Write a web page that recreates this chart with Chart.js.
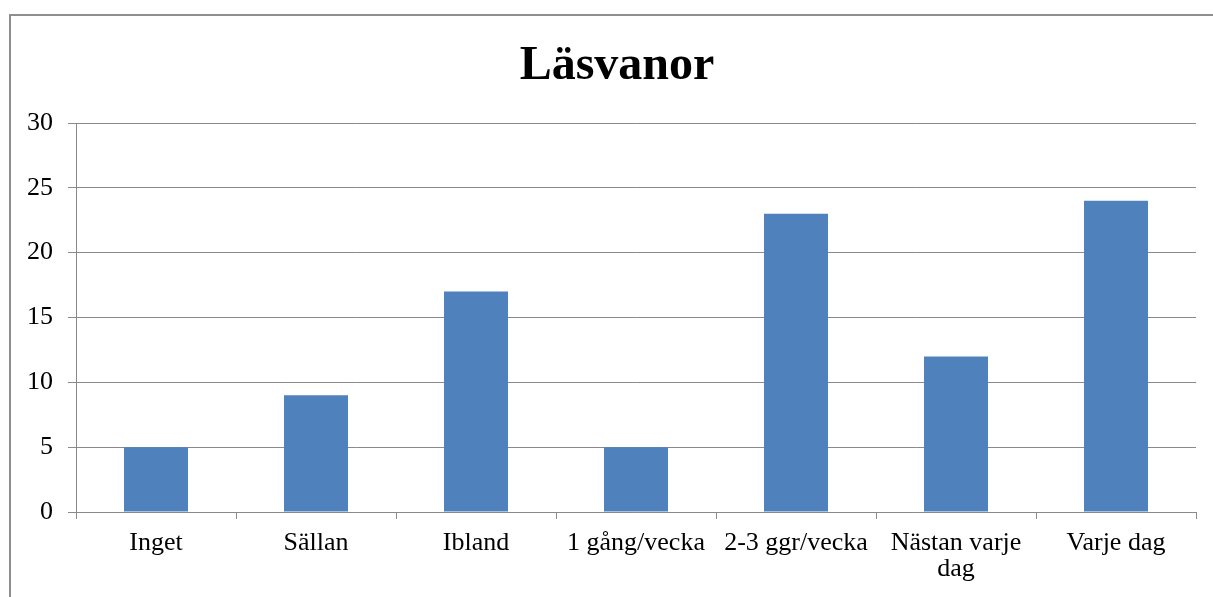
<!DOCTYPE html>
<html>
<head>
<meta charset="utf-8">
<script src="https://cdn.jsdelivr.net/npm/chart.js@4"></script>
<style>
  html, body { margin: 0; padding: 0; background: #fff; overflow: hidden; }
  #frame {
    position: absolute; left: 9px; top: 14px; width: 1260px; height: 650px;
    border-left: 2px solid #8e8e8e; border-top: 2px solid #8e8e8e;
  }
  #chart { position: absolute; left: 0; top: 0; }
</style>
</head>
<body>
<div id="frame"></div>
<canvas id="chart" width="1213" height="597"></canvas>
<script>
// --- Данные графика ---
const chartTitle = 'Läsvanor';
const categories = ['Inget', 'Sällan', 'Ibland', '1 gång/vecka', '2-3 ggr/vecka', ['Nästan varje', 'dag'], 'Varje dag'];
const readingCounts = [5, 9, 17, 5, 23, 12, 24];
const yMin = 0;
const yMax = 30;
const yStep = 5;

const serif = '"Liberation Serif", "Times New Roman", Times, serif';
const gridGray = '#8a8a8a';

// Заголовок центрируется по рамке диаграммы (рамка шире видимой области)
const frameTitle = {
    id: 'frameTitle',
    afterDraw(chart) {
        const c = chart.ctx;
        c.save();
        c.font = 'bold 48px ' + serif;
        c.fillStyle = '#000';
        c.textAlign = 'center';
        c.textBaseline = 'alphabetic';
        c.fillText(chartTitle, 617, 79);
        c.restore();
    }
};

const ctx = document.getElementById('chart').getContext('2d');
new Chart(ctx, {
    type: 'bar',
    data: {
        labels: categories,
        datasets: [{
            label: chartTitle,
            data: readingCounts,
            backgroundColor: '#4F81BD',
            borderWidth: 0,
            categoryPercentage: 1,
            barPercentage: 0.4
        }]
    },
    options: {
        responsive: false,
        animation: false,
        layout: { padding: { left: 0, right: 17, top: 123, bottom: 4 } },
        plugins: {
            legend: { display: false },
            tooltip: { enabled: false },
            title: { display: false }
        },
        scales: {
            x: {
                offset: true,
                grid: { offset: true, drawOnChartArea: false, drawTicks: true, tickLength: 7, color: gridGray, lineWidth: 1 },
                border: { display: true, color: gridGray, width: 1 },
                ticks: {
                    color: '#000', autoSkip: false, maxRotation: 0, minRotation: 0, padding: 11,
                    font: { family: serif, size: 26, lineHeight: 1 }
                }
            },
            y: {
                min: yMin,
                max: yMax,
                afterFit: (scale) => { scale.width = 76; },
                grid: { color: gridGray, lineWidth: 1, tickLength: 8, drawTicks: true },
                border: { display: true, color: gridGray, width: 1 },
                ticks: {
                    stepSize: yStep, color: '#000', padding: 15,
                    font: { family: serif, size: 26 }
                }
            }
        }
    },
    plugins: [frameTitle]
});
</script>
</body>
</html>
